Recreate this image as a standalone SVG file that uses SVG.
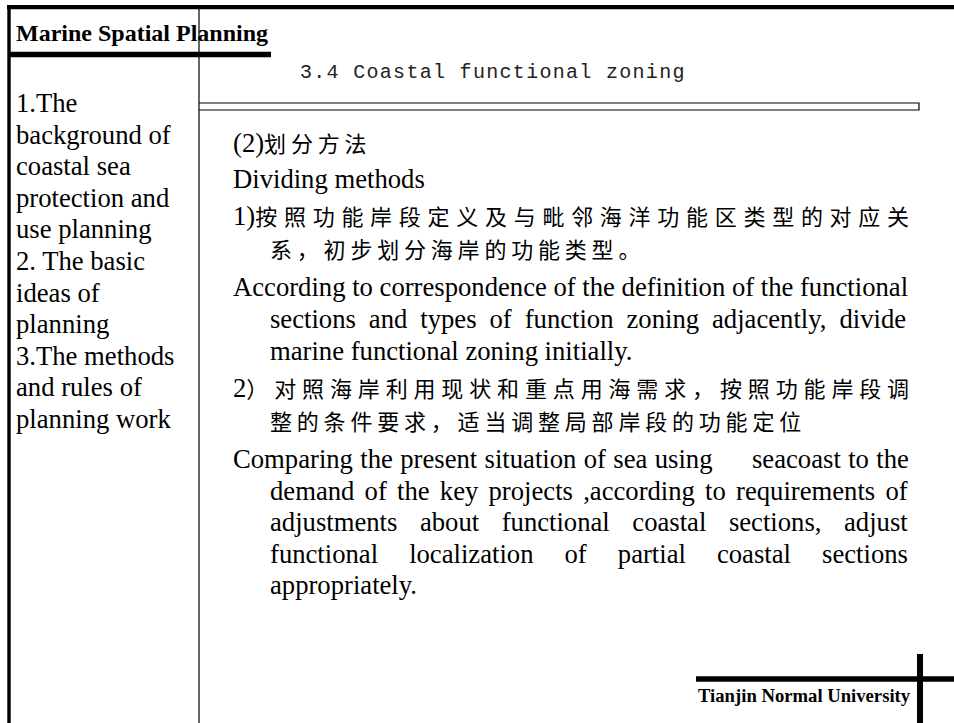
<svg xmlns="http://www.w3.org/2000/svg" width="954" height="723" viewBox="0 0 954 723">
<style>
.en{font-family:"Liberation Serif","Times New Roman",serif;font-size:26.67px;fill:#000}
.cjk{font-family:"Noto Sans CJK SC","Noto Sans CJK TC",sans-serif;font-size:22px;fill:#000}
.bold{font-family:"Liberation Serif","Times New Roman",serif;font-weight:bold;fill:#000}
.mono{font-family:"Liberation Mono","DejaVu Sans Mono",monospace;font-size:20px;letter-spacing:1.3px;fill:#222}
.thick{stroke:#000;fill:none}
.thin{stroke:#000;stroke-width:1.2;fill:none}
</style>
<rect width="954" height="723" fill="#fff"/>
<g id="frame">
<line class="thick" x1="7" y1="7.2" x2="954" y2="7.2" stroke-width="4.3"/>
<line class="thick" x1="9" y1="5" x2="9" y2="723" stroke-width="3.4"/>
<line class="thin" x1="199" y1="9" x2="199" y2="723"/>
<line class="thick" x1="9" y1="54.5" x2="271" y2="54.5" stroke-width="5.5"/>
</g>
<g id="title">
<text class="bold" x="16" y="41" font-size="24">Marine Spatial Planning</text>
</g>
<g id="heading">
<text class="mono" x="300" y="78">3.4 Coastal functional zoning</text>
<path class="thin" d="M199 103 H919 V110 H199"/>
</g>
<g id="sidebar">
<text class="en">
<tspan x="16" y="112">1.The</tspan>
<tspan x="16" y="143.6">background of</tspan>
<tspan x="16" y="175.2">coastal sea</tspan>
<tspan x="16" y="206.8">protection and</tspan>
<tspan x="16" y="238.4">use planning</tspan>
<tspan x="16" y="270">2. The basic</tspan>
<tspan x="16" y="301.6">ideas of</tspan>
<tspan x="16" y="333.2">planning</tspan>
<tspan x="16" y="364.8">3.The methods</tspan>
<tspan x="16" y="396.4">and rules of</tspan>
<tspan x="16" y="428">planning work</tspan>
</text>
</g>
<g id="body">
<text class="en" x="233" y="152">(2)<tspan class="cjk" letter-spacing="4.8">划分方法</tspan></text>
<text class="en" x="233" y="188">Dividing methods</text>
<text class="en" x="233" y="225">1)<tspan class="cjk" letter-spacing="6.72">按照功能岸段定义及与毗邻海洋功能区类型的对应关</tspan></text>
<text class="cjk" x="270" y="258" letter-spacing="4.8">系，初步划分海岸的功能类型。</text>
<text class="en" x="233" y="296">According to correspondence of the definition of the functional</text>
<text class="en" x="270" y="328" style="word-spacing:6.3px">sections and types of function zoning adjacently, divide</text>
<text class="en" x="270" y="360">marine functional zoning initially.</text>
<text class="en" x="233" y="397">2<tspan class="cjk" letter-spacing="5.86">）对照海岸利用现状和重点用海需求，按照功能岸段调</tspan></text>
<text class="cjk" x="270" y="430" letter-spacing="4.8">整的条件要求，适当调整局部岸段的功能定位</text>
<text class="en" x="233" y="468" style="word-spacing:0.7px">Comparing the present situation of sea using <tspan x="752">seacoast to the</tspan></text>
<text class="en" x="270" y="500" style="word-spacing:3.56px">demand of the key projects ,according to requirements of</text>
<text class="en" x="270" y="531" style="word-spacing:15.9px">adjustments about functional coastal sections, adjust</text>
<text class="en" x="270" y="563" style="word-spacing:24.4px">functional localization of partial coastal sections</text>
<text class="en" x="270" y="594">appropriately.</text>
</g>
<g id="footer">
<line class="thick" x1="696" y1="679" x2="954" y2="679" stroke-width="5.5"/>
<line class="thick" x1="920" y1="654" x2="920" y2="723" stroke-width="6"/>
<text class="bold" x="698" y="702" font-size="18.67">Tianjin Normal University</text>
</g>
</svg>
